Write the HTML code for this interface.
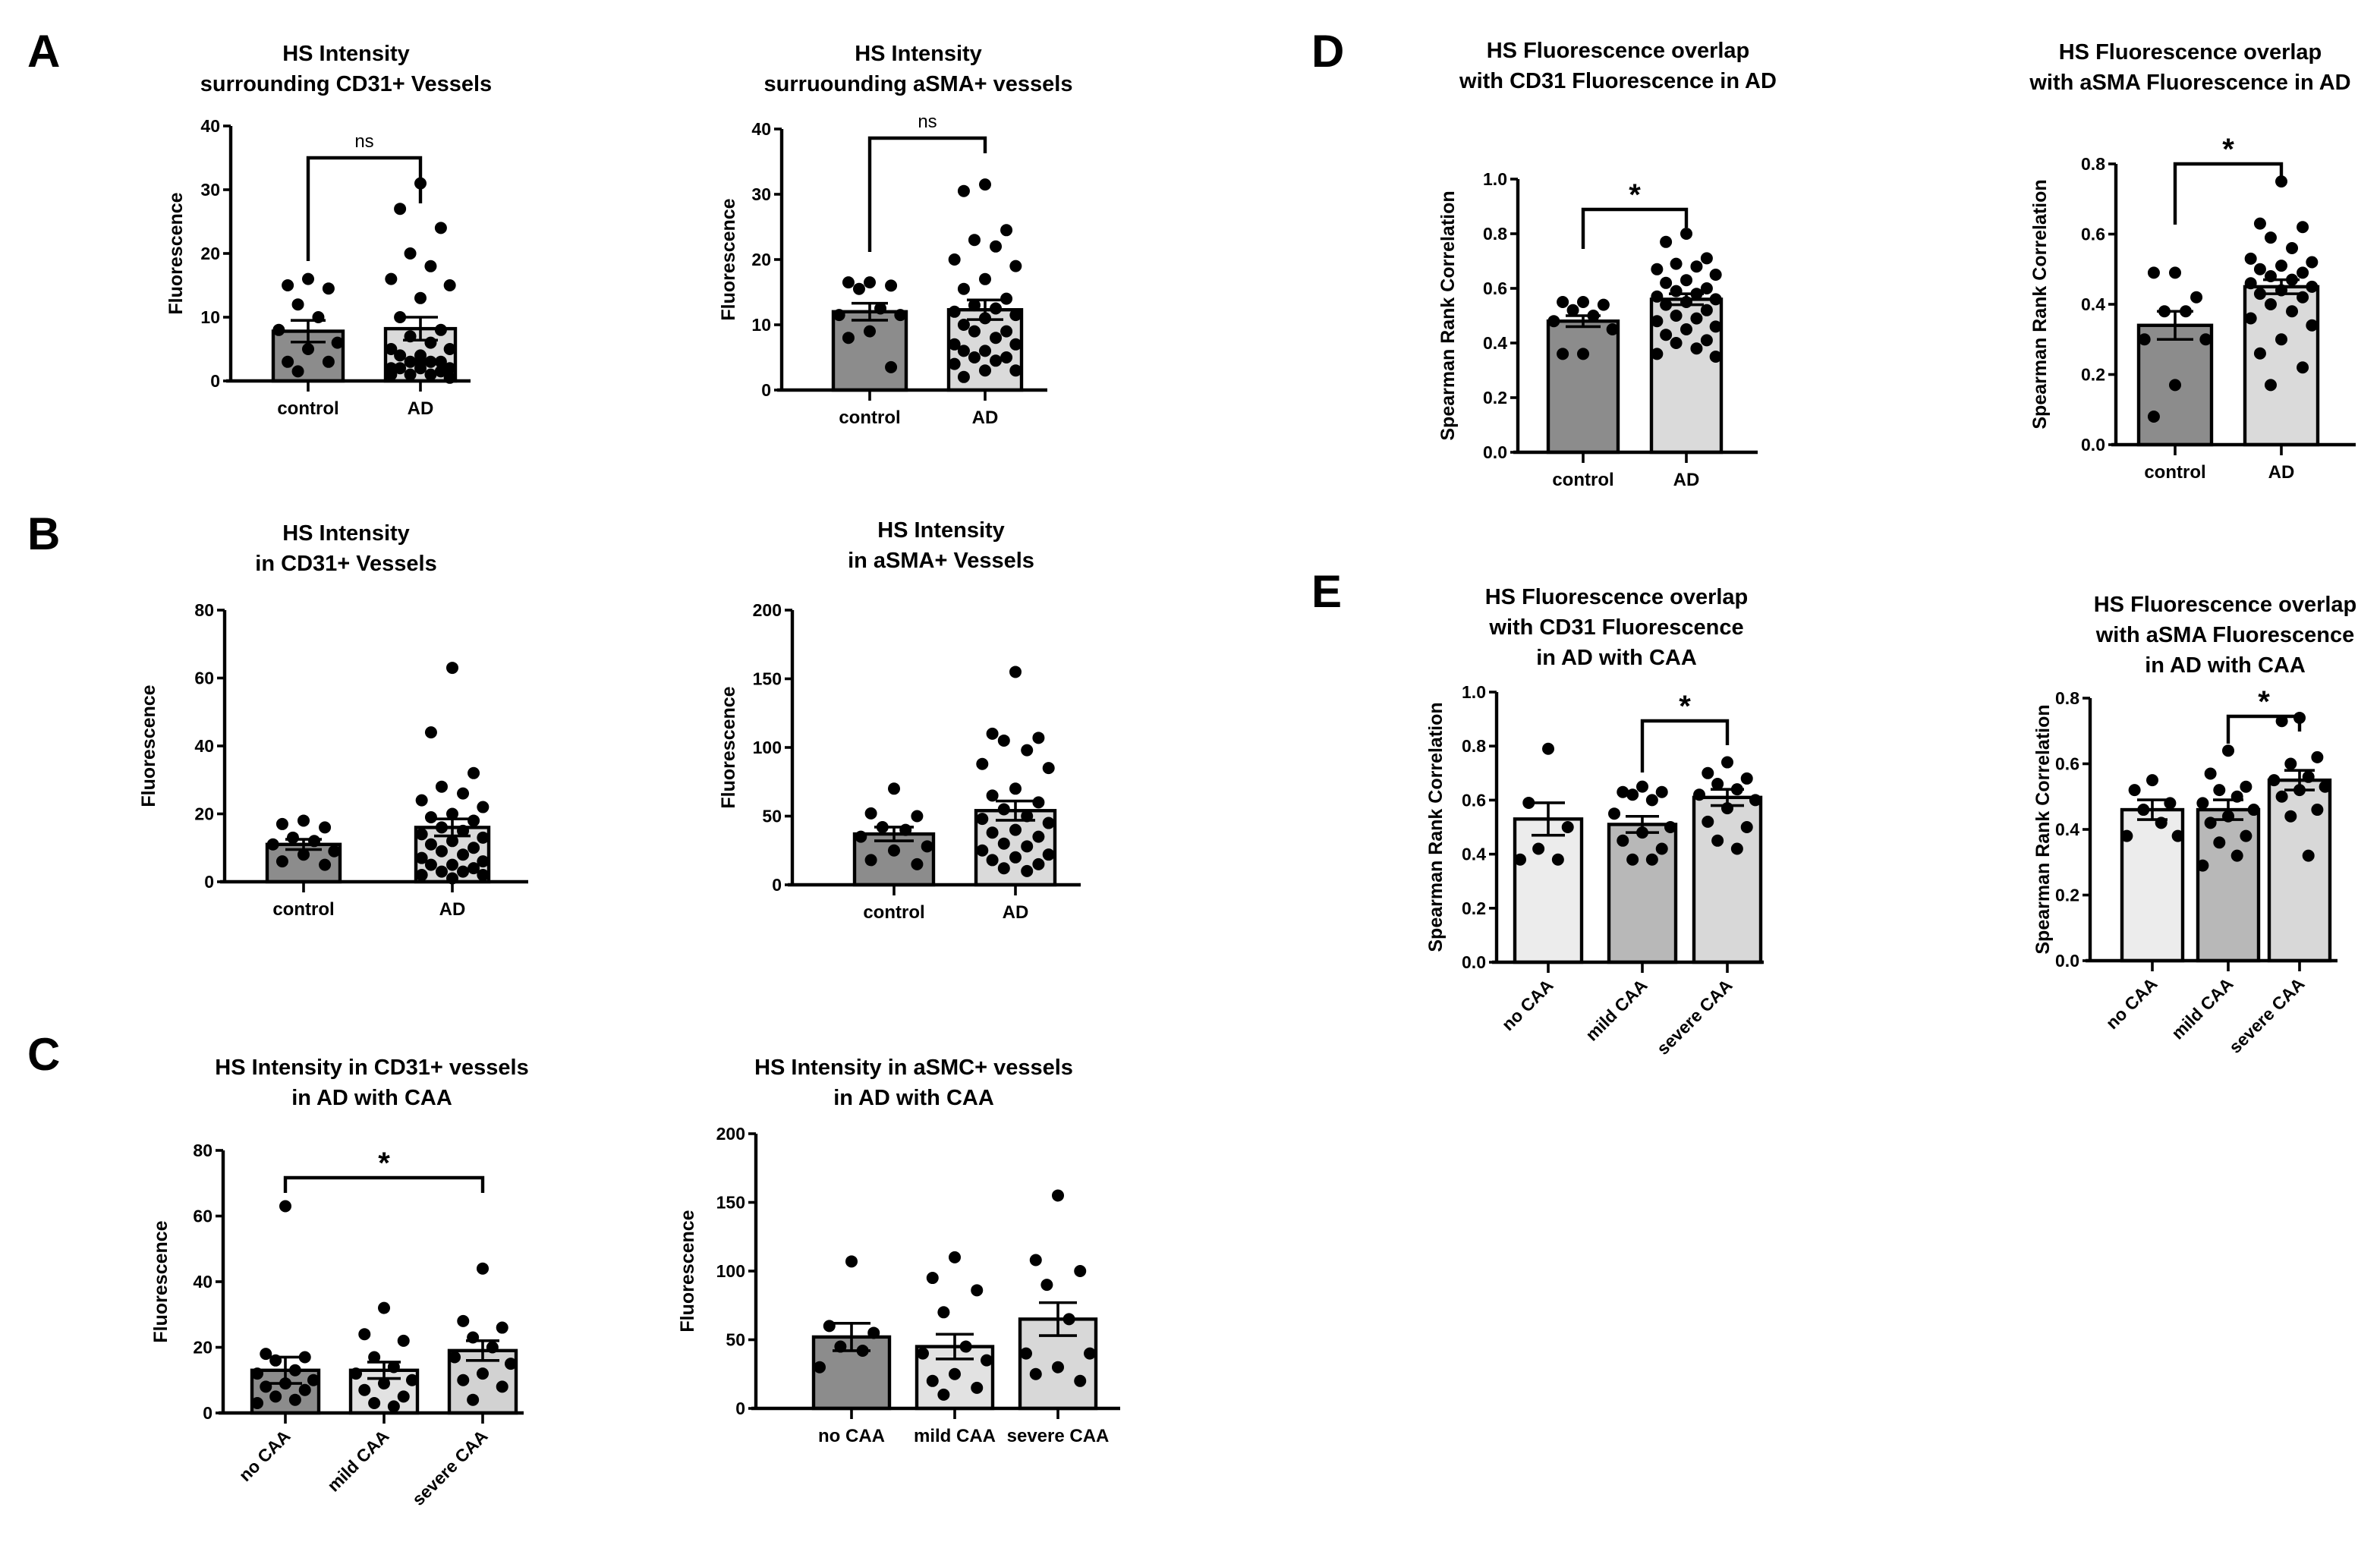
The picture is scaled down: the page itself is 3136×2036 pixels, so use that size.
<!DOCTYPE html>
<html><head><meta charset="utf-8">
<style>
html,body{margin:0;padding:0;background:#fff;}
svg{display:block;font-family:"Liberation Sans",Arial,sans-serif;}
</style></head>
<body>
<svg id="fig" width="3136" height="2036" viewBox="0 0 1568 1018" xmlns="http://www.w3.org/2000/svg">
<rect width="1568" height="1018" fill="#fff"/>
<text x="18" y="44" font-size="30" font-weight="bold">A</text>
<text x="18" y="362" font-size="30" font-weight="bold">B</text>
<text x="18" y="705" font-size="30" font-weight="bold">C</text>
<text x="864" y="44" font-size="30" font-weight="bold">D</text>
<text x="864" y="400" font-size="30" font-weight="bold">E</text>
</svg>
<script>
// ---- data arrays ----
const catsCA = ["control","AD"];
const catsCAA = ["no CAA","mild CAA","severe CAA"];

const a1Means = [7.8, 8.2];
const a1Sem = [1.7, 1.8];
const a1Dots = [[16,15,14.5,12,10,8,6,5,3,3,1.5],[31,27,24,20,18,16,15,13,10,8,7,6,5,5,4,4,3,3,3,2,2,2,2,1.5,1,1,1,0.5,3]];
const a2Means = [12, 12.3];
const a2Sem = [1.3, 1.5];
const a2Dots = [[16.5,16.5,16,15.5,12.5,11.5,11.5,9,8,3.5],[31.5,30.5,24.5,23,22,20,19,17,15.5,14,13,12.5,12,11.5,11,10,9,9,8,7,7,6,6,5,5,4.5,4,3,3,2]];
const b1Means = [11, 16];
const b1Sem = [1.5, 2.5];
const b1Dots = [[18,17,16,13,12,11,9,8,6,5],[63,44,32,28,26,24,22,20,19,18,16,15,14,13,12,11,10,9,8,7,6,5,5,4,3,3,2,2,1]];
const b2Means = [37, 54];
const b2Sem = [5, 7];
const b2Dots = [[70,52,50,42,40,35,28,25,18,15],[155,110,107,105,98,88,85,70,65,60,55,50,48,45,40,38,35,30,28,25,22,20,18,15,12,10]];
const c1Means = [13, 13, 19];
const c1Sem = [4, 2.5, 3];
const c1Dots = [[63,18,17,16,13,12,10,9,8,7,5,4,3],[32,24,22,17,14,12,10,9,7,5,3,2],[44,28,26,23,20,17,15,12,10,8,4]];
const c2Means = [52, 45, 65];
const c2Sem = [10, 9, 12];
const c2Dots = [[107,60,55,45,42,30],[110,95,86,70,45,40,35,25,20,15,10],[155,108,100,90,65,40,40,30,25,20]];
const d1Means = [0.48, 0.56];
const d1Sem = [0.02, 0.02];
const d1Dots = [[0.55,0.55,0.54,0.52,0.5,0.48,0.45,0.36,0.36],[0.8,0.77,0.71,0.69,0.68,0.67,0.65,0.63,0.62,0.6,0.59,0.58,0.57,0.56,0.55,0.54,0.52,0.5,0.49,0.48,0.46,0.45,0.43,0.41,0.4,0.38,0.36,0.35]];
const d2Means = [0.34, 0.45];
const d2Sem = [0.04, 0.02];
const d2Dots = [[0.49,0.49,0.42,0.38,0.38,0.3,0.3,0.17,0.08],[0.75,0.63,0.62,0.59,0.56,0.53,0.52,0.51,0.5,0.49,0.48,0.47,0.46,0.45,0.44,0.43,0.42,0.4,0.38,0.36,0.34,0.3,0.26,0.22,0.17]];
const e1Means = [0.53, 0.51, 0.61];
const e1Sem = [0.06, 0.03, 0.03];
const e1Dots = [[0.79,0.59,0.5,0.42,0.38,0.38],[0.65,0.63,0.63,0.62,0.6,0.55,0.5,0.48,0.45,0.42,0.38,0.38],[0.74,0.7,0.68,0.66,0.64,0.62,0.6,0.57,0.52,0.5,0.45,0.42]];
const e2Means = [0.46, 0.46, 0.55];
const e2Sem = [0.03, 0.03, 0.03];
const e2Dots = [[0.55,0.52,0.48,0.46,0.42,0.38,0.38],[0.64,0.57,0.53,0.52,0.5,0.48,0.46,0.44,0.42,0.38,0.36,0.32,0.29],[0.74,0.73,0.62,0.6,0.56,0.55,0.53,0.52,0.5,0.46,0.44,0.32]];

const ticks40 = [0,10,20,30,40];
const ticks80 = [0,20,40,60,80];
const ticks200 = [0,50,100,150,200];
const ticks1 = ["0.0","0.2","0.4","0.6","0.8","1.0"];
const ticks08 = ["0.0","0.2","0.4","0.6","0.8"];

const NS = "http://www.w3.org/2000/svg";
const svg = document.getElementById('fig');
function mk(tag, attrs, parent, text){
  const e = document.createElementNS(NS, tag);
  for (const k in attrs) e.setAttribute(k, attrs[k]);
  if (text !== undefined) e.textContent = text;
  (parent || svg).appendChild(e);
  return e;
}

function panel(p){
  const g = mk('g', {});
  
  
  const ymax = parseFloat(p.ticks[p.ticks.length-1]);
  const y = v => p.y0 - (v / ymax) * (p.y0 - p.yTop);
  // title
  p.title.forEach((t, i) => {
    const tt = mk('text', {x:p.tx, y:p.ty + i*20, 'font-size':14.5, 'font-weight':'bold', 'text-anchor':'middle'}, g, t);
    
    
  });
  // y label
  const yl = mk('text', {x:0, y:0, 'font-size':12.5, 'font-weight':'bold', 'text-anchor':'middle', transform:`translate(${p.ylx},${(p.y0+p.yTop)/2}) rotate(-90)`}, g, p.ylabel);
  
  
  // bars
  p.cx.forEach((cx, i) => {
    const m = p.means[i];
    const bar = mk('rect', {x:cx - p.bw/2, y:y(m), width:p.bw, height:p.y0 - y(m), fill:p.colors[i], stroke:'#000', 'stroke-width':2.2}, g);
    
    
    // dots
    const dots = p.dots[i];
    const sp = p.bw / 5.2;
    dots.forEach((v, j) => {
      const off = [0,-1.6,1.6,-0.8,0.8,-2.3,2.3][j % 7] * sp * 0.95;
      const d = mk('circle', {cx:cx + off, cy:y(v), r:p.r, fill:'#000'}, g);
      
      
    });
    // error bar
    const s = p.sem[i];
    const eb = mk('path', {d:`M${cx},${y(m-s)}V${y(m+s)}M${cx-p.bw/4},${y(m+s)}H${cx+p.bw/4}M${cx-p.bw/4},${y(m-s)}H${cx+p.bw/4}`, stroke:'#000', 'stroke-width':1.8, fill:'none'}, g);
    
    
    // x tick + label
    mk('line', {x1:cx, x2:cx, y1:p.y0, y2:p.y0+7, stroke:'#000', 'stroke-width':1.8}, g);
    let lab;
    if (p.rot) {
      lab = mk('text', {x:0, y:0, 'font-size':11.5, 'font-weight':'bold', 'text-anchor':'end', transform:`translate(${cx+4},${p.y0+16}) rotate(-45)`}, g, p.cats[i]);
    } else {
      lab = mk('text', {x:cx, y:p.y0+22, 'font-size':12, 'font-weight':'bold', 'text-anchor':'middle'}, g, p.cats[i]);
    }
    
    
  });
  // axes
  const ax = mk('path', {d:`M${p.ax},${p.yTop}V${p.y0}M${p.ax-3},${p.y0}H${p.axEnd}`, stroke:'#000', 'stroke-width':2.2, fill:'none'}, g);
  
  
  p.ticks.forEach(t => {
    const v = parseFloat(t);
    mk('line', {x1:p.ax-5, x2:p.ax, y1:y(v), y2:y(v), stroke:'#000', 'stroke-width':1.8}, g);
    const tl = mk('text', {x:p.ax-7, y:y(v)+4, 'font-size':11.5, 'font-weight':'bold', 'text-anchor':'end'}, g, String(t));
    
    
  });
  // significance bracket
  if (p.sig) {
    const [i1, i2, by, lbl, l1, l2] = p.sig;
    const x1 = p.cx[i1], x2 = p.cx[i2];
    const br = mk('path', {d:`M${x1},${by+l1}V${by}H${x2}V${by+l2}`, stroke:'#000', 'stroke-width':2.2, fill:'none'}, g);
    
    
    const st = mk('text', {x:(x1+x2)/2, y: lbl==='ns' ? by-7 : by-3, 'font-size': lbl==='ns'?12:20, 'font-weight': lbl==='ns'?'normal':'bold', 'text-anchor':'middle'}, g, lbl);
    
    
  }
}

const dark = '#8c8c8c', light = '#dadada';
panel({name:'chart-a1', title:['HS Intensity','surrounding CD31+ Vessels'], tx:228, ty:40, ylabel:'Fluorescence', ylx:120,
  ax:152, axEnd:310, yTop:83, y0:251, ticks:ticks40, cats:catsCA, cx:[203,277], bw:46, colors:[dark,light], r:4,
  means:a1Means, sem:a1Sem, dots:a1Dots, sig:[0,1,104,'ns',68,30]});
panel({name:'chart-a2', title:['HS Intensity','surruounding aSMA+ vessels'], tx:605, ty:40, ylabel:'Fluorescence', ylx:484,
  ax:515, axEnd:690, yTop:85, y0:257, ticks:ticks40, cats:catsCA, cx:[573,649], bw:48, colors:[dark,light], r:4,
  means:a2Means, sem:a2Sem, dots:a2Dots, sig:[0,1,91,'ns',75,10]});
panel({name:'chart-b1', title:['HS Intensity','in CD31+ Vessels'], tx:228, ty:356, ylabel:'Fluorescence', ylx:102,
  ax:148, axEnd:348, yTop:402, y0:581, ticks:ticks80, cats:catsCA, cx:[200,298], bw:48, colors:[dark,light], r:4,
  means:b1Means, sem:b1Sem, dots:b1Dots});
panel({name:'chart-b2', title:['HS Intensity','in aSMA+ Vessels'], tx:620, ty:354, ylabel:'Fluorescence', ylx:484,
  ax:522, axEnd:712, yTop:402, y0:583, ticks:ticks200, cats:catsCA, cx:[589,669], bw:52, colors:[dark,light], r:4,
  means:b2Means, sem:b2Sem, dots:b2Dots});
panel({name:'chart-c1', title:['HS Intensity in CD31+ vessels','in AD with CAA'], tx:245, ty:708, ylabel:'Fluorescence', ylx:110,
  ax:147, axEnd:345, yTop:758, y0:931, ticks:ticks80, cats:catsCAA, cx:[188,253,318], bw:44, colors:[dark,'#e2e2e2','#d2d2d2'], r:4,
  means:c1Means, sem:c1Sem, dots:c1Dots, sig:[0,2,776,'*',10,10], rot:true});
panel({name:'chart-c2', title:['HS Intensity in aSMC+ vessels','in AD with CAA'], tx:602, ty:708, ylabel:'Fluorescence', ylx:457,
  ax:498, axEnd:738, yTop:747, y0:928, ticks:ticks200, cats:catsCAA, cx:[561,629,697], bw:50, colors:[dark,'#e2e2e2','#d8d8d8'], r:4,
  means:c2Means, sem:c2Sem, dots:c2Dots});
panel({name:'chart-d1', title:['HS Fluorescence overlap','with CD31 Fluorescence in AD'], tx:1066, ty:38, ylabel:'Spearman Rank Correlation', ylx:958,
  ax:1000, axEnd:1158, yTop:118, y0:298, ticks:ticks1, cats:catsCA, cx:[1043,1111], bw:46, colors:[dark,light], r:4,
  means:d1Means, sem:d1Sem, dots:d1Dots, sig:[0,1,138,'*',26,12]});
panel({name:'chart-d2', title:['HS Fluorescence overlap','with aSMA Fluorescence in AD'], tx:1443, ty:39, ylabel:'Spearman Rank Correlation', ylx:1348,
  ax:1394, axEnd:1552, yTop:108, y0:293, ticks:ticks08, cats:catsCA, cx:[1433,1503], bw:48, colors:[dark,light], r:4,
  means:d2Means, sem:d2Sem, dots:d2Dots, sig:[0,1,108,'*',40,12]});
panel({name:'chart-e1', title:['HS Fluorescence overlap','with CD31 Fluorescence','in AD with CAA'], tx:1065, ty:398, ylabel:'Spearman Rank Correlation', ylx:950,
  ax:986, axEnd:1162, yTop:456, y0:634, ticks:ticks1, cats:catsCAA, cx:[1020,1082,1138], bw:44, colors:['#ececec','#b8b8b8','#d8d8d8'], r:4,
  means:e1Means, sem:e1Sem, dots:e1Dots, sig:[1,2,475,'*',34,16], rot:true});
panel({name:'chart-e2', title:['HS Fluorescence overlap','with aSMA Fluorescence','in AD with CAA'], tx:1466, ty:403, ylabel:'Spearman Rank Correlation', ylx:1350,
  ax:1377, axEnd:1540, yTop:460, y0:633, ticks:ticks08, cats:catsCAA, cx:[1418,1468,1515], bw:40, colors:['#ececec','#b8b8b8','#d8d8d8'], r:4,
  means:e2Means, sem:e2Sem, dots:e2Dots, sig:[1,2,472,'*',18,10], rot:true});
</script>
</body></html>
